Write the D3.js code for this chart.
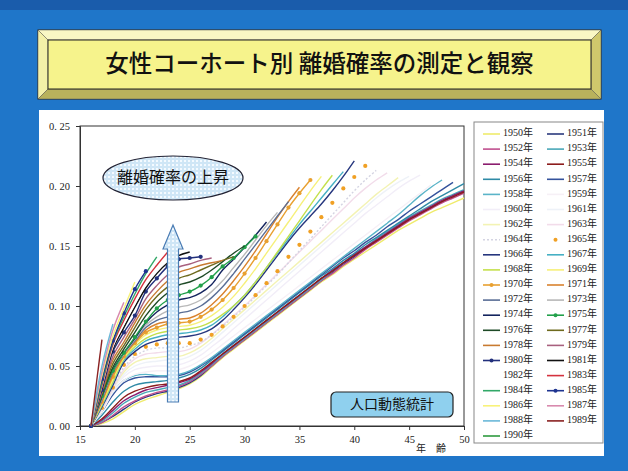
<!DOCTYPE html>
<html>
<head>
<meta charset="utf-8">
<script src="https://cdn.jsdelivr.net/npm/d3@7"></script>
<style>
  html, body { margin: 0; padding: 0; background: #1f74c6; }
  svg { display: block; }
</style>
</head>
<body>
<svg id="chart" width="628" height="471"></svg>
<script>
// Cumulative divorce probability by age, one array per birth cohort (values from age 16 up).
const r1950 = [0,0.002,0.006,0.012,0.018,0.022,0.025,0.028,0.031,0.035,0.041,0.049,0.057,0.064,0.071,0.078,0.085,0.092,0.099,0.106,0.113,0.12,0.126,0.133,0.139,0.145,0.151,0.157,0.163,0.168,0.173,0.178,0.182,0.186,0.19];
const r1951 = [0,0.003,0.008,0.014,0.02,0.024,0.027,0.029,0.032,0.036,0.042,0.05,0.058,0.065,0.072,0.079,0.086,0.093,0.1,0.107,0.114,0.121,0.128,0.135,0.141,0.148,0.154,0.16,0.166,0.172,0.177,0.182,0.187,0.192,0.196];
const r1952 = [0,0.003,0.009,0.016,0.021,0.025,0.028,0.03,0.033,0.037,0.043,0.05,0.058,0.065,0.072,0.079,0.086,0.093,0.1,0.107,0.114,0.121,0.127,0.134,0.14,0.147,0.153,0.159,0.165,0.171,0.176,0.181,0.186,0.19,0.194];
const r1953 = [0,0.004,0.011,0.019,0.024,0.028,0.03,0.032,0.034,0.038,0.044,0.051,0.059,0.066,0.073,0.08,0.087,0.094,0.101,0.108,0.115,0.122,0.129,0.136,0.143,0.149,0.156,0.162,0.168,0.174,0.179,0.184,0.189,0.193,0.197];
const r1954 = [0,0.005,0.013,0.021,0.026,0.03,0.032,0.034,0.036,0.039,0.045,0.052,0.06,0.067,0.074,0.081,0.088,0.095,0.102,0.109,0.116,0.123,0.13,0.136,0.143,0.149,0.155,0.161,0.167,0.173,0.178,0.183,0.188,0.192,0.196];
const r1955 = [0,0.006,0.015,0.024,0.029,0.032,0.034,0.035,0.037,0.04,0.046,0.053,0.06,0.067,0.074,0.081,0.088,0.095,0.102,0.109,0.116,0.123,0.129,0.136,0.142,0.148,0.154,0.16,0.166,0.172,0.177,0.182,0.187,0.191,0.195];
const r1956 = [0,0.009,0.02,0.029,0.034,0.036,0.037,0.038,0.04,0.043,0.048,0.055,0.062,0.069,0.076,0.083,0.09,0.097,0.104,0.111,0.118,0.125,0.131,0.138,0.144,0.151,0.157,0.163,0.169,0.175,0.181,0.187,0.192,0.197,0.202];
const r1957 = [0,0.012,0.026,0.036,0.04,0.041,0.041,0.041,0.042,0.045,0.05,0.056,0.063,0.07,0.077,0.084,0.091,0.098,0.105,0.112,0.119,0.126,0.133,0.14,0.146,0.153,0.159,0.166,0.172,0.179,0.185,0.191,0.197,0.203];
const r1958 = [0,0.013,0.028,0.038,0.042,0.043,0.042,0.042,0.043,0.046,0.051,0.057,0.064,0.071,0.078,0.085,0.092,0.099,0.106,0.113,0.12,0.127,0.134,0.141,0.148,0.155,0.162,0.169,0.176,0.184,0.192,0.199,0.205];
const r1959 = [0,0.012,0.028,0.038,0.043,0.045,0.046,0.046,0.047,0.05,0.055,0.061,0.068,0.075,0.082,0.089,0.096,0.103,0.11,0.117,0.124,0.131,0.138,0.145,0.152,0.159,0.166,0.173,0.18,0.187,0.194,0.201];
const r1960 = [0,0.013,0.03,0.041,0.047,0.049,0.05,0.05,0.051,0.054,0.059,0.066,0.073,0.081,0.089,0.097,0.105,0.113,0.121,0.129,0.137,0.145,0.153,0.161,0.169,0.177,0.184,0.191,0.198,0.204,0.209];
const r1961 = [0,0.013,0.03,0.043,0.05,0.053,0.054,0.055,0.055,0.058,0.063,0.07,0.078,0.086,0.094,0.102,0.11,0.118,0.126,0.134,0.142,0.15,0.158,0.166,0.174,0.182,0.19,0.197,0.203,0.208];
const r1962 = [0,0.014,0.031,0.045,0.053,0.056,0.057,0.058,0.058,0.061,0.066,0.073,0.081,0.089,0.097,0.105,0.113,0.121,0.129,0.137,0.145,0.153,0.161,0.169,0.177,0.185,0.193,0.2,0.207];
const r1963 = [0,0.014,0.031,0.047,0.056,0.06,0.061,0.062,0.062,0.064,0.069,0.076,0.084,0.092,0.1,0.109,0.118,0.127,0.136,0.145,0.154,0.163,0.172,0.181,0.19,0.198,0.205,0.211];
const r1964 = [0,0.015,0.032,0.049,0.058,0.063,0.065,0.065,0.065,0.067,0.07,0.076,0.083,0.091,0.099,0.108,0.117,0.126,0.136,0.146,0.156,0.166,0.176,0.186,0.196,0.205,0.213];
const r1965 = [0,0.015,0.032,0.051,0.06,0.066,0.068,0.069,0.069,0.069,0.072,0.076,0.083,0.091,0.1,0.109,0.119,0.129,0.141,0.151,0.162,0.174,0.186,0.198,0.2075,0.2167];
const r1966 = [0,0.016,0.034,0.053,0.062,0.068,0.071,0.073,0.074,0.075,0.077,0.081,0.088,0.097,0.107,0.118,0.13,0.142,0.154,0.165,0.175,0.185,0.196,0.208,0.221];
const r1967 = [0,0.017,0.036,0.055,0.064,0.071,0.074,0.076,0.077,0.078,0.08,0.084,0.091,0.1,0.109,0.12,0.132,0.144,0.156,0.168,0.179,0.19,0.201,0.212];
const r1968 = [0,0.018,0.037,0.056,0.066,0.073,0.077,0.079,0.08,0.081,0.083,0.087,0.093,0.1,0.109,0.12,0.132,0.145,0.158,0.171,0.184,0.197,0.209];
const r1969 = [0,0.019,0.039,0.057,0.068,0.076,0.08,0.082,0.083,0.084,0.087,0.092,0.099,0.108,0.119,0.131,0.144,0.157,0.17,0.183,0.196,0.208];
const r1970 = [0,0.02,0.041,0.058,0.069,0.078,0.082,0.085,0.086,0.087,0.091,0.097,0.105,0.115,0.127,0.14,0.154,0.168,0.182,0.194,0.205];
const r1971 = [0,0.021,0.043,0.059,0.07,0.08,0.085,0.087,0.089,0.09,0.094,0.101,0.11,0.121,0.133,0.146,0.16,0.174,0.187,0.199];
const r1972 = [0,0.022,0.045,0.06,0.071,0.082,0.088,0.091,0.094,0.096,0.1,0.107,0.116,0.127,0.139,0.151,0.163,0.175,0.187];
const r1973 = [0,0.023,0.046,0.06,0.072,0.084,0.091,0.096,0.099,0.101,0.105,0.112,0.121,0.132,0.143,0.155,0.167,0.178];
const r1974 = [0,0.024,0.047,0.061,0.073,0.086,0.095,0.101,0.105,0.107,0.111,0.118,0.13,0.139,0.149,0.159,0.17];
const r1975 = [0,0.025,0.046,0.061,0.074,0.087,0.098,0.105,0.109,0.112,0.117,0.124,0.133,0.14,0.149,0.158];
const r1976 = [0,0.026,0.049,0.064,0.078,0.092,0.103,0.111,0.1175,0.12,0.124,0.13,0.137,0.144,0.15];
const r1977 = [0,0.027,0.052,0.067,0.082,0.097,0.108,0.116,0.123,0.126,0.13,0.134,0.138,0.141];
const r1978 = [0,0.028,0.055,0.07,0.086,0.101,0.112,0.121,0.128,0.131,0.134,0.136,0.138];
const r1979 = [0,0.029,0.058,0.074,0.089,0.106,0.117,0.126,0.1325,0.135,0.138,0.14];
const r1980 = [0,0.03,0.062,0.078,0.092,0.112,0.123,0.133,0.139,0.14,0.141];
const r1981 = [0,0.032,0.064,0.082,0.099,0.115,0.127,0.136,0.142,0.145];
const r1982 = [0,0.033,0.066,0.085,0.102,0.118,0.13,0.139,0.144];
const r1983 = [0,0.034,0.068,0.088,0.106,0.122,0.134,0.145];
const r1984 = [0,0.036,0.07,0.091,0.11,0.127,0.141];
const r1985 = [0,0.039,0.071,0.094,0.114,0.129];
const r1986 = [0,0.042,0.075,0.098,0.12];
const r1987 = [0,0.045,0.08,0.103];
const r1988 = [0,0.05,0.085];
const r1989 = [0,0.072];
const r1990 = [0];

const cohortYears = d3.range(1950, 1991);
const cohortRates = [r1950,r1951,r1952,r1953,r1954,r1955,r1956,r1957,r1958,r1959,
  r1960,r1961,r1962,r1963,r1964,r1965,r1966,r1967,r1968,r1969,
  r1970,r1971,r1972,r1973,r1974,r1975,r1976,r1977,r1978,r1979,
  r1980,r1981,r1982,r1983,r1984,r1985,r1986,r1987,r1988,r1989,r1990];
const firstAge = 16;

// Series styling
const cohortColors = [
  "#efeb6c","#2b3a7e","#c0508f","#4aa8b8","#8b1d6e","#8c1c1c","#2f8aa6","#34529c","#5ab4c8","#f6f0f6",
  "#f2eef8","#eef2f8","#f3f3b4","#f2dcea","#d4d4e2","#f0a024","#26367e","#46b0c4","#c4e04c","#f6f07a",
  "#e8a030","#d9822e","#5a6e96","#b8b8b8","#14245e","#22a04a","#1e4a26","#6e6a1e","#c87a30","#a8607e",
  "#22307c","#111111","#ffffff","#d4323e","#32a868","#1e3490","#f8f27a","#d88aae","#6ab8d8","#8a2222",
  "#2e9a3e"];
const dotOnly = [1965];
const withMarkers = [1970, 1975, 1980, 1985];
const dashed = [1964];

const xTicks = [15, 20, 25, 30, 35, 40, 45, 50];
const yTicks = [0, 0.05, 0.10, 0.15, 0.20, 0.25];

const titleText = "女性コーホート別 離婚確率の測定と観察";
const riseLabel = "離婚確率の上昇";
const sourceLabel = "人口動態統計";
const xAxisTitle = "年　齢";

const svg = d3.select("#chart");
const defs = svg.append("defs");

// light-blue dotted fill used by the arrow and the ellipse
const pat = defs.append("pattern").attr("id", "dotfill")
  .attr("width", 4).attr("height", 4).attr("patternUnits", "userSpaceOnUse");
pat.append("rect").attr("width", 4).attr("height", 4).attr("fill", "#cfe6f6");
pat.append("rect").attr("x", 0).attr("y", 0).attr("width", 2).attr("height", 2).attr("fill", "#f4faff");

// background
svg.append("rect").attr("width", 628).attr("height", 471).attr("fill", "#1f76c9");
svg.append("rect").attr("width", 628).attr("height", 10).attr("fill", "#1a5cab");

// title plate with bevel
const T = { x0: 38, y0: 30, x1: 601, y1: 99, b: 10 };
const tg = svg.append("g");
tg.append("rect").attr("x", T.x0).attr("y", T.y0).attr("width", T.x1 - T.x0).attr("height", T.y1 - T.y0)
  .attr("fill", "#e6e27a").attr("stroke", "#222").attr("stroke-width", 1);
const bev = [
  { pts: [[T.x0,T.y0],[T.x1,T.y0],[T.x1-T.b,T.y0+T.b],[T.x0+T.b,T.y0+T.b]], c: "#f9f7c4" },
  { pts: [[T.x0,T.y0],[T.x0+T.b,T.y0+T.b],[T.x0+T.b,T.y1-T.b],[T.x0,T.y1]], c: "#f3f0a8" },
  { pts: [[T.x0,T.y1],[T.x0+T.b,T.y1-T.b],[T.x1-T.b,T.y1-T.b],[T.x1,T.y1]], c: "#b9b25c" },
  { pts: [[T.x1,T.y0],[T.x1,T.y1],[T.x1-T.b,T.y1-T.b],[T.x1-T.b,T.y0+T.b]], c: "#cfc86c" }
];
bev.forEach(d => tg.append("polygon").attr("points", d.pts.map(p => p.join(",")).join(" "))
  .attr("fill", d.c).attr("stroke", "#555").attr("stroke-width", 0.5));
tg.append("rect").attr("x", T.x0 + T.b).attr("y", T.y0 + T.b)
  .attr("width", T.x1 - T.x0 - 2 * T.b).attr("height", T.y1 - T.y0 - 2 * T.b)
  .attr("fill", "#f6f38c").attr("stroke", "#222").attr("stroke-width", 1);
tg.append("text").attr("x", (T.x0 + T.x1) / 2).attr("y", (T.y0 + T.y1) / 2 + 1)
  .attr("text-anchor", "middle").attr("dominant-baseline", "middle")
  .attr("font-family", "'Noto Sans CJK JP', sans-serif").attr("font-size", 23.5)
  .attr("font-weight", 500).attr("fill", "#111").text(titleText);

// white panel
svg.append("rect").attr("x", 39).attr("y", 110).attr("width", 565).attr("height", 346).attr("fill", "#ffffff");

// plot area
const P = { left: 80, right: 464, top: 126, bottom: 426 };
const x = d3.scaleLinear().domain([15, 50]).range([P.left, P.right]);
const y = d3.scaleLinear().domain([0, 0.25]).range([P.bottom, P.top]);

svg.append("rect").attr("x", P.left).attr("y", P.top)
  .attr("width", P.right - P.left).attr("height", P.bottom - P.top)
  .attr("fill", "none").attr("stroke", "#333").attr("stroke-width", 1);

const serif = "'Liberation Serif', 'Noto Sans CJK JP', serif";
const tickFmt = d => d3.format(".2f")(d).replace(".", ". ");

const yAxis = svg.append("g").attr("transform", `translate(${P.left},0)`)
  .call(d3.axisLeft(y).tickValues(yTicks).tickFormat(tickFmt).tickSize(4).tickPadding(6));
const xAxis = svg.append("g").attr("transform", `translate(0,${P.bottom})`)
  .call(d3.axisBottom(x).tickValues(xTicks).tickFormat(d3.format("d")).tickSize(4).tickPadding(6));
[xAxis, yAxis].forEach(a => {
  a.select(".domain").attr("stroke", "#333");
  a.selectAll(".tick line").attr("stroke", "#333");
  a.selectAll("text").attr("font-family", serif).attr("font-size", 10.5).attr("fill", "#222");
});

svg.append("text").attr("x", 431).attr("y", 452).attr("text-anchor", "middle")
  .attr("font-family", serif).attr("font-size", 10).attr("fill", "#222").text(xAxisTitle);

// cohort curves
const line = d3.line()
  .x((d, i) => x(firstAge + i))
  .y(d => y(d))
  .curve(d3.curveCatmullRom.alpha(0.5));

const lines = svg.append("g");
cohortYears.forEach((yr, k) => {
  const vals = cohortRates[k];
  const col = cohortColors[k];
  if (!dotOnly.includes(yr) && vals.length > 1) {
    lines.append("path").datum(vals).attr("d", line)
      .attr("fill", "none").attr("stroke", col).attr("stroke-width", 1.4)
      .attr("stroke-dasharray", dashed.includes(yr) ? "2,2" : null);
  }
  if (dotOnly.includes(yr) || withMarkers.includes(yr)) {
    lines.append("g").selectAll("circle").data(vals).join("circle")
      .attr("cx", (d, i) => x(firstAge + i)).attr("cy", d => y(d))
      .attr("r", 2.1).attr("fill", col);
  }
});

// upward arrow
const A = { cx: 173, shaftW: 11, headW: 20, bottom: 402, headBase: 249, tip: 225 };
svg.append("path")
  .attr("d", `M${A.cx - A.shaftW/2},${A.bottom} L${A.cx - A.shaftW/2},${A.headBase} L${A.cx - A.headW/2},${A.headBase} L${A.cx},${A.tip} L${A.cx + A.headW/2},${A.headBase} L${A.cx + A.shaftW/2},${A.headBase} L${A.cx + A.shaftW/2},${A.bottom} Z`)
  .attr("fill", "url(#dotfill)").attr("stroke", "#4a7cb4").attr("stroke-width", 1.2);

// ellipse label
svg.append("ellipse").attr("cx", 173).attr("cy", 178).attr("rx", 70).attr("ry", 22)
  .attr("fill", "url(#dotfill)").attr("stroke", "#223").attr("stroke-width", 1.2);
svg.append("text").attr("x", 173).attr("y", 179).attr("text-anchor", "middle")
  .attr("dominant-baseline", "middle").attr("font-family", "'Noto Sans CJK JP', sans-serif")
  .attr("font-size", 16).attr("fill", "#111").text(riseLabel);

// source box
svg.append("rect").attr("x", 331).attr("y", 392).attr("width", 122).attr("height", 25).attr("rx", 5)
  .attr("fill", "#8fd0ee").attr("stroke", "#222").attr("stroke-width", 1.2);
svg.append("text").attr("x", 392).attr("y", 405).attr("text-anchor", "middle")
  .attr("dominant-baseline", "middle").attr("font-family", "'Noto Sans CJK JP', sans-serif")
  .attr("font-size", 14).attr("fill", "#111").text(sourceLabel);

// legend
const L = { x: 474, y: 122, w: 129, h: 321, rowH: 15.1, firstRow: 134 };
const lg = svg.append("g");
lg.append("rect").attr("x", L.x).attr("y", L.y).attr("width", L.w).attr("height", L.h)
  .attr("fill", "#fff").attr("stroke", "#888").attr("stroke-width", 1);
cohortYears.forEach((yr, k) => {
  const col = k % 2;
  const row = Math.floor(k / 2);
  const cy = L.firstRow + row * L.rowH;
  const lx0 = col === 0 ? 483 : 547;
  const lx1 = lx0 + 17;
  const c = cohortColors[k];
  if (!dotOnly.includes(yr)) {
    lg.append("line").attr("x1", lx0).attr("x2", lx1).attr("y1", cy).attr("y2", cy)
      .attr("stroke", c).attr("stroke-width", 1.6)
      .attr("stroke-dasharray", dashed.includes(yr) ? "2,2" : null);
  }
  if (dotOnly.includes(yr) || withMarkers.includes(yr)) {
    lg.append("circle").attr("cx", (lx0 + lx1) / 2).attr("cy", cy).attr("r", 2).attr("fill", c);
  }
  lg.append("text").attr("x", lx1 + 3).attr("y", cy).attr("dominant-baseline", "middle")
    .attr("font-family", serif).attr("font-size", 10).attr("fill", "#222").text(yr + "年");
});
</script>
</body>
</html>
